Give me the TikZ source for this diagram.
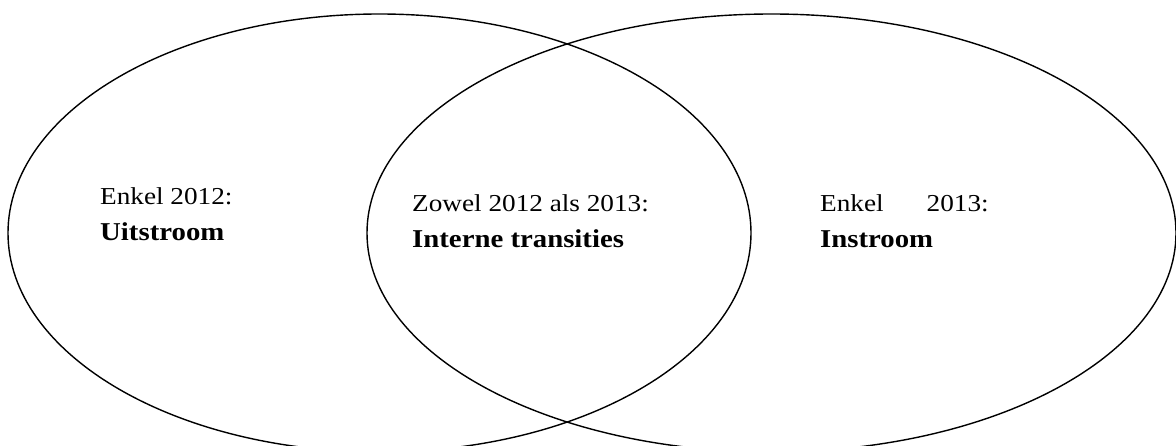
\documentclass[tikz,border=0pt]{standalone}
\usepackage{fontspec}
\setmainfont{Liberation Serif}[FakeStretch=1.12]
\usetikzlibrary{shapes.geometric}
\tikzset{
  setring/.style={ellipse, draw, line width=1.4pt, inner sep=0pt},
  lbl/.style={anchor=base west, inner sep=0pt, font=\fontsize{24.3}{36}\selectfont},
  lblb/.style={lbl, font=\fontsize{25.7}{36}\selectfont\bfseries}
}
\begin{document}
\begin{tikzpicture}[x=1pt, y=-1pt]
\useasboundingbox (0,0) rectangle (1176,446);
\node[setring, minimum width=743pt, minimum height=438pt] (L) at (379.5,233) {};
\node[setring, minimum width=809pt, minimum height=438pt] (R) at (771.5,233) {};
\node[lbl]  (l1) at (100,205) {Enkel 2012:};
\node[lblb] (l2) at (100,241) {Uitstroom};
\node[lbl]  (m1) at (412,212) {Zowel 2012 als 2013:};
\node[lblb] (m2) at (412,248) {Interne transities};
\node[lbl]  (r1) at (820,212) {Enkel\hspace{43pt}2013:};
\node[lblb] (r2) at (820,248) {Instroom};
\end{tikzpicture}
\end{document}
